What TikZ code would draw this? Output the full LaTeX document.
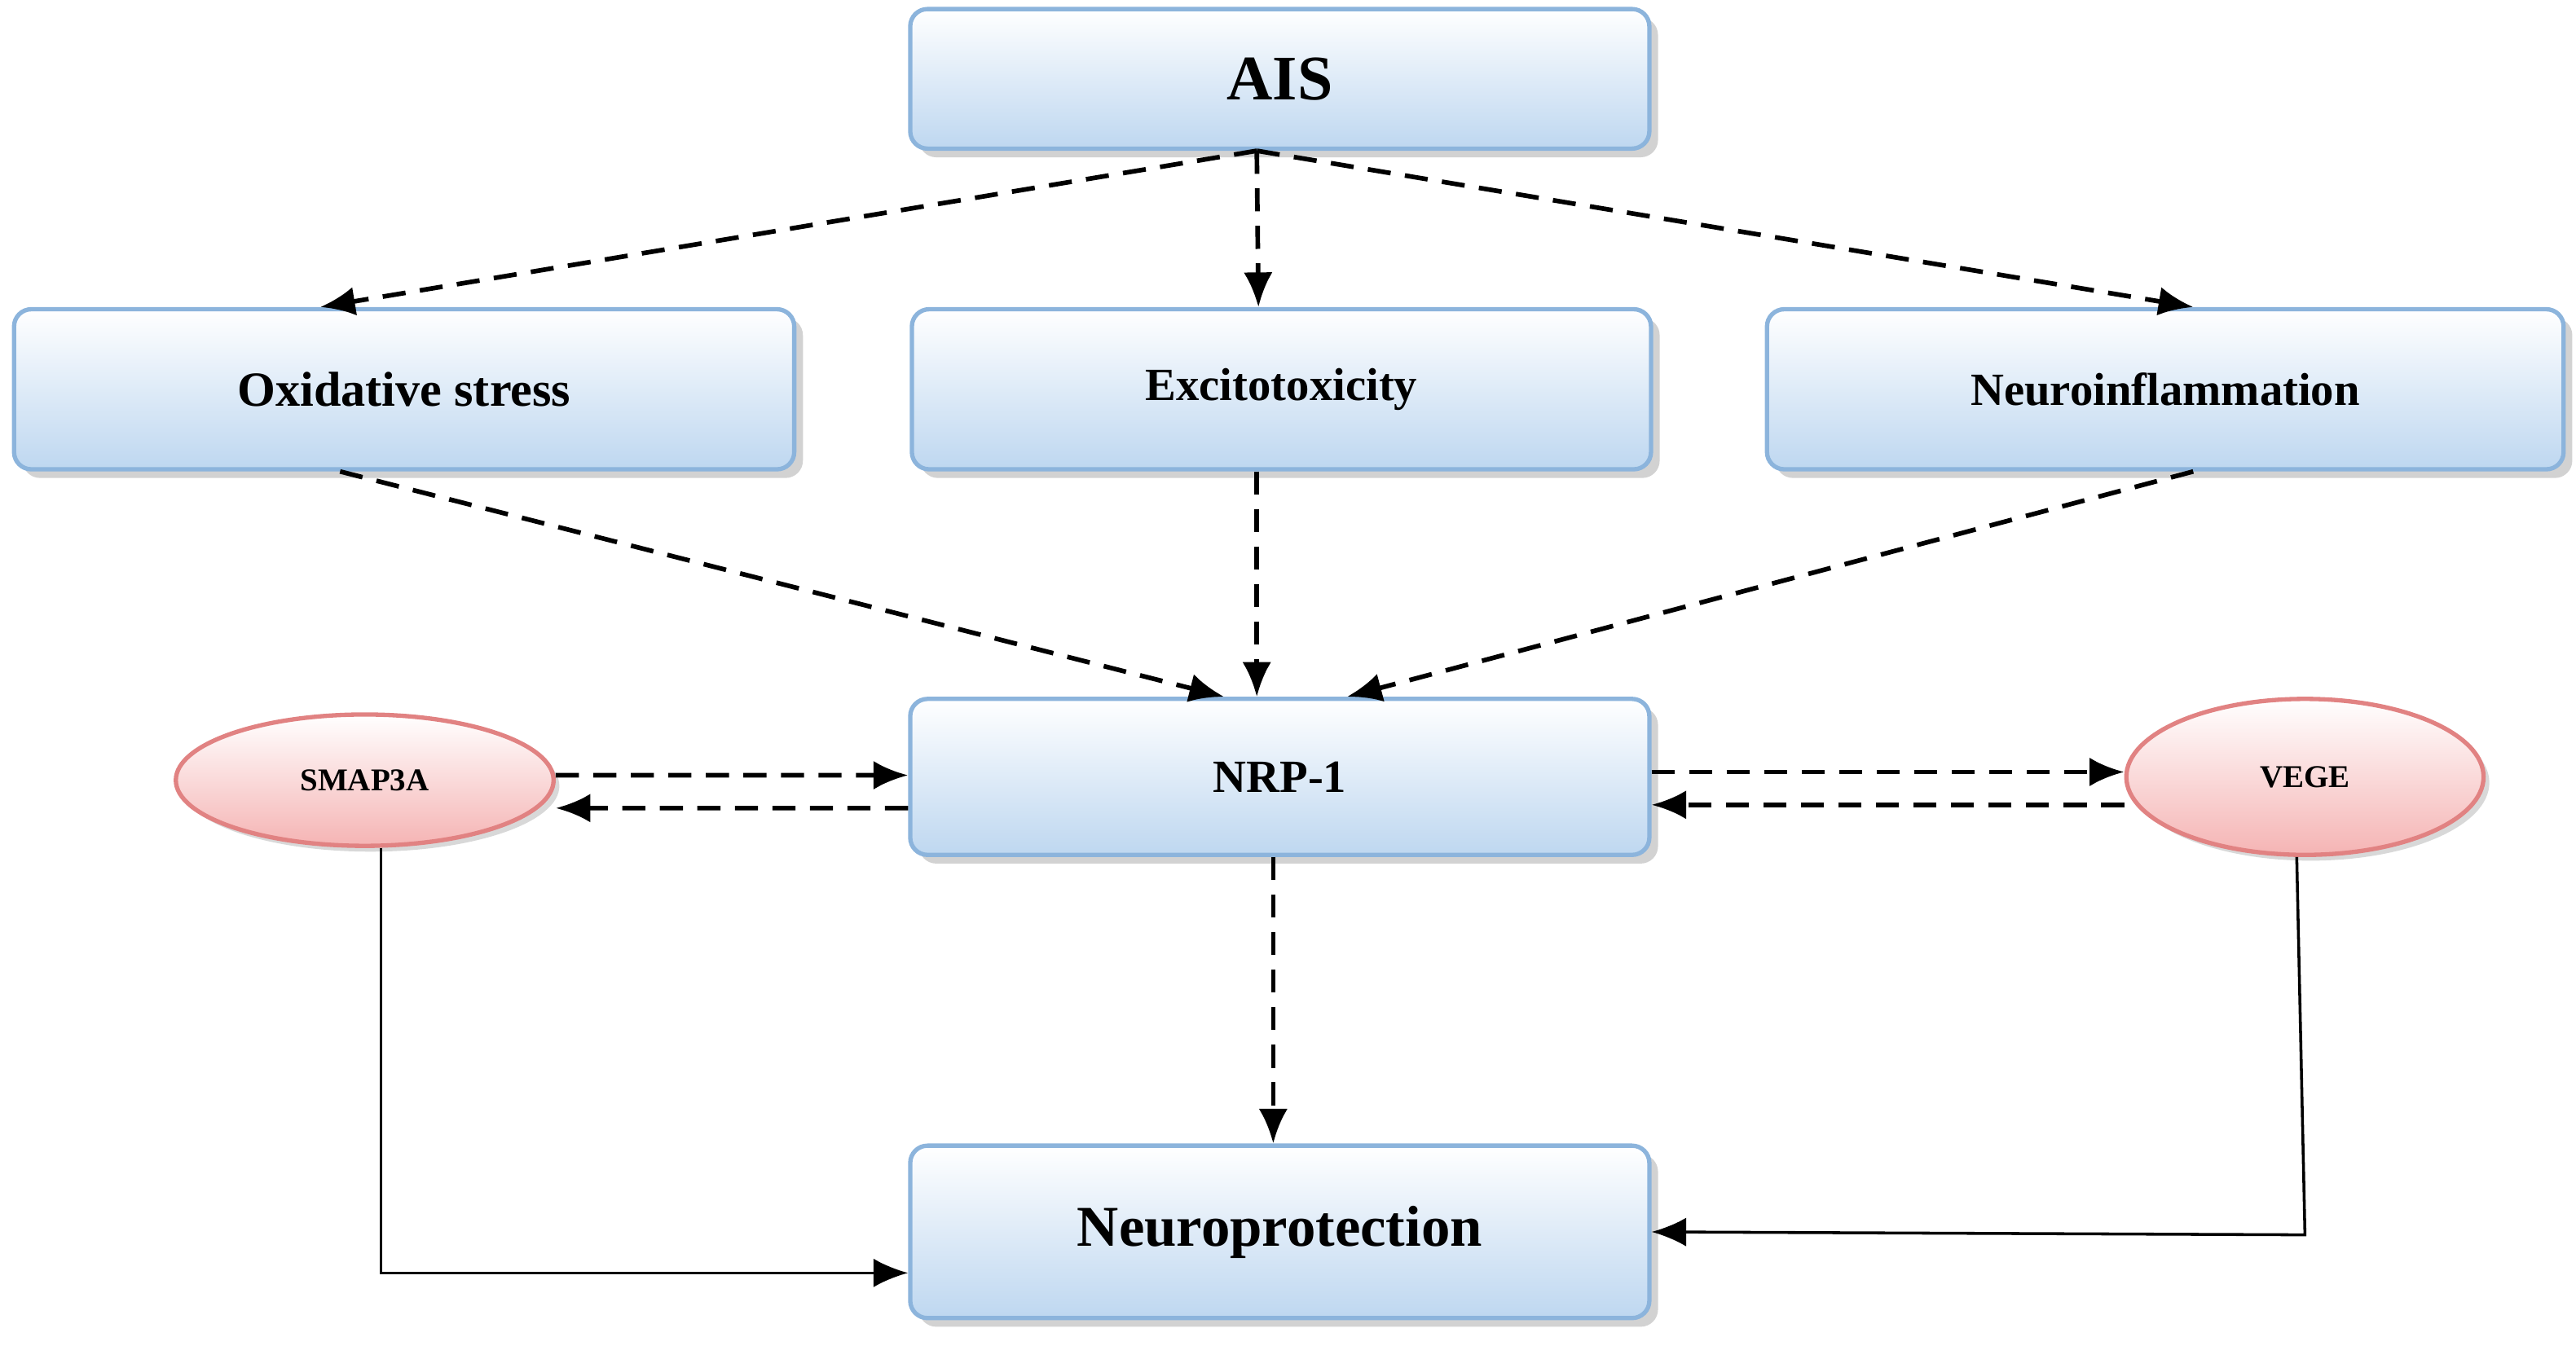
\documentclass[tikz,border=0pt]{standalone}
\usepackage{fontspec}
\setmainfont{Liberation Serif}
\usetikzlibrary{positioning, arrows.meta, shadows, shapes.geometric}
\definecolor{boxline}{RGB}{140,180,220}
\definecolor{boxfill}{RGB}{190,215,240}
\definecolor{ovalline}{RGB}{225,130,130}
\definecolor{ovalfill}{RGB}{245,180,180}

\begin{document}
\begin{tikzpicture}[
    x=0.02cm, y=-0.02cm,
    box/.style={
        rectangle,
        draw=boxline,
        top color=white,
        bottom color=boxfill,
        line width=1.5pt,
        rounded corners=6pt,
        minimum width=9cm,
        minimum height=1.95cm,
        font=\bfseries,
        drop shadow={shadow xshift=3pt, shadow yshift=-3pt, fill=black!35}
    },
    oval/.style={
        ellipse,
        draw=ovalline,
        top color=white,
        bottom color=ovalfill,
        line width=1.5pt,
        font=\bfseries\fontsize{11}{13}\selectfont,
        drop shadow={shadow xshift=2pt, shadow yshift=-2pt, fill=black!30}
    },
    dasharrow/.style={
        -{Latex[length=12pt,width=10pt]},
        dashed,
        dash pattern=on 8pt off 5pt,
        line width=1.6pt
    },
    solidarrow/.style={
        -{Latex[length=12pt,width=10pt]},
        line width=1pt
    }
]
\useasboundingbox (0,0) rectangle (1568,827);

% Top
\node[box, minimum height=1.7cm] (ais) at (779,48) {\fontsize{22}{26}\selectfont AIS};

% Mechanisms
\node[box, minimum width=9.5cm] (oxid) at (246,237) {\fontsize{17}{20}\selectfont Oxidative stress};
\node[box] (excit) at (780,237) {\fontsize{16}{19}\selectfont Excitotoxicity};
\node[box, minimum width=9.7cm] (neuro) at (1318,237) {\fontsize{16}{19}\selectfont Neuroinflammation};

% Receptor
\node[box, minimum height=1.9cm] (nrp) at (779,473) {\fontsize{16}{19}\selectfont NRP-1};
\node[oval, minimum width=4.6cm, minimum height=1.6cm] (smap) at (222,475) {SMAP3A};
\node[oval, minimum width=4.35cm, minimum height=1.9cm] (vege) at (1403,473) {VEGE};

% Outcome
\node[box, minimum height=2.1cm] (prot) at (779,750) {\fontsize{20}{24}\selectfont Neuroprotection};

% Arrows
\draw[dasharrow] ([xshift=-0.28cm]ais.south) -- ([xshift=-1.02cm]oxid.north);
\draw[dasharrow] ([xshift=-0.28cm]ais.south) -- ([xshift=-0.28cm]excit.north);
\draw[dasharrow] ([xshift=-0.28cm]ais.south) -- ([xshift=0.34cm]neuro.north);
\draw[dasharrow] ([xshift=-0.78cm]oxid.south) -- ([xshift=-0.68cm]nrp.north);
\draw[dasharrow] ([xshift=-0.3cm]excit.south) -- ([xshift=-0.28cm]nrp.north);
\draw[dasharrow] ([xshift=0.34cm]neuro.south) -- ([xshift=0.82cm]nrp.north);
\draw[dasharrow] ([yshift=0.06cm]smap.east) -- ([yshift=0.02cm]nrp.west);
\draw[dasharrow] ([yshift=-0.38cm]nrp.west) -- ([yshift=-0.34cm]smap.east);
\draw[dasharrow] ([yshift=0.06cm]nrp.east) -- ([yshift=0.06cm]vege.west);
\draw[dasharrow] ([yshift=-0.34cm]vege.west) -- ([yshift=-0.34cm]nrp.east);
\draw[dasharrow] ([xshift=-0.08cm]nrp.south) -- ([xshift=-0.08cm]prot.north);
\draw[solidarrow] ([xshift=0.2cm]smap.south) |- ([yshift=-0.5cm]prot.west);
\draw[solidarrow] ([xshift=-0.1cm]vege.south) -- ++(5,230) -- (prot.east);

\end{tikzpicture}
\end{document}
